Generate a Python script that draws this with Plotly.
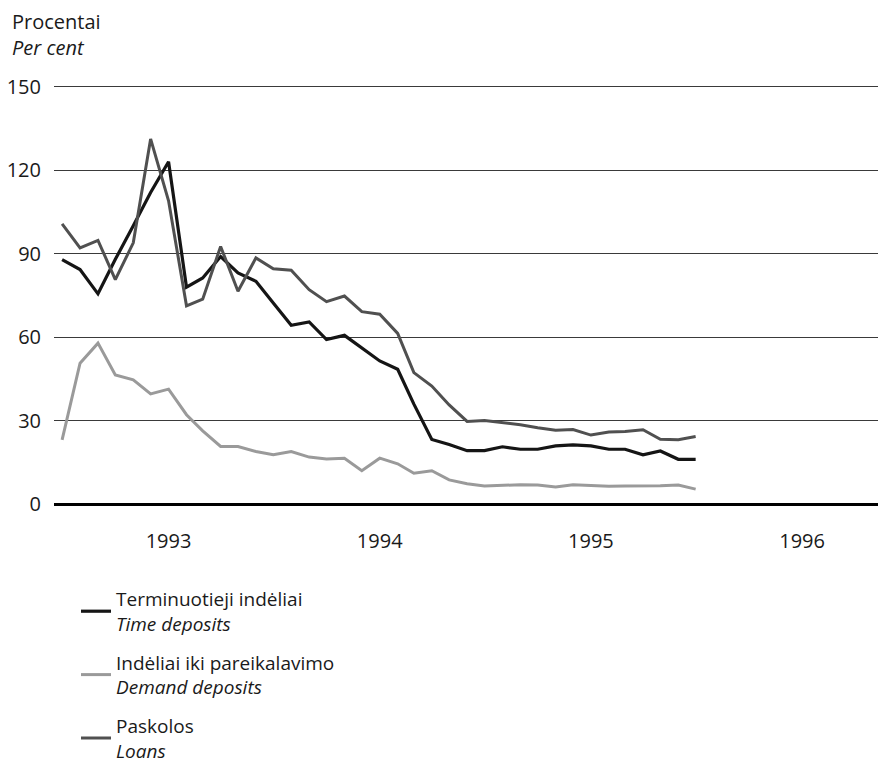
import pandas as pd
import plotly.graph_objects as go

# Monthly data, July 1992 - July 1995 (per cent)
time_deposits = [87.9, 84.3, 75.6, 88.0, 100.0, 112.0, 123.0, 78.0, 81.3, 89.0,
                 83.1, 80.1, 72.3, 64.3, 65.5, 59.2, 60.7, 56.0, 51.5, 48.5,
                 36.0, 23.3, 21.5, 19.3, 19.3, 20.7, 19.8, 19.8, 21.0, 21.4,
                 21.0, 19.8, 19.8, 17.8, 19.2, 16.2, 16.2]
demand_deposits = [23.2, 50.7, 57.9, 46.5, 44.7, 39.7, 41.4, 32.2, 26.4, 20.8,
                   20.8, 19.0, 17.8, 19.0, 17.0, 16.3, 16.6, 12.1, 16.6, 14.6,
                   11.2, 12.1, 8.8, 7.4, 6.6, 6.9, 7.1, 7.0, 6.3, 7.1,
                   6.8, 6.5, 6.6, 6.6, 6.7, 7.0, 5.5]
loans = [100.7, 92.1, 94.8, 80.7, 93.9, 131.2, 109.0, 71.3, 73.7, 92.6,
         76.5, 88.5, 84.6, 84.1, 77.1, 72.8, 74.8, 69.2, 68.3, 61.4,
         47.3, 42.5, 35.7, 29.8, 30.1, 29.3, 28.6, 27.5, 26.6, 26.9,
         24.9, 26.0, 26.2, 26.8, 23.4, 23.2, 24.4]
months = pd.date_range("1992-07-01", periods=len(time_deposits), freq="MS")

year_ticks = ["1993-01-01", "1994-01-01", "1995-01-01", "1996-01-01"]
year_labels = ["1993", "1994", "1995", "1996"]
y_ticks = [0, 30, 60, 90, 120, 150]

series = [
    ("Terminuotieji indėliai<br><i>Time deposits</i>", time_deposits, "#151515", 3.2),
    ("Indėliai iki pareikalavimo<br><i>Demand deposits</i>", demand_deposits, "#9a9a9a", 3.0),
    ("Paskolos<br><i>Loans</i>", loans, "#505050", 3.0),
]

FONT = "Open Sans"
FS = 20
TXT = "#1a1a1a"
# the page body adds an 8px margin, so the figure is 8px smaller
W, H = 878, 759
ML, MR, MT, MB = 46, 0, 73, 257
PW, PH = W - ML - MR, H - MT - MB

fig = go.Figure()
for i, (name, vals, color, w) in enumerate(series):
    fig.add_trace(go.Scatter(
        x=months, y=vals, mode="lines", name=name,
        legendgroup=f"g{i}",
        line=dict(color=color, width=w),
    ))

fig.add_annotation(
    text="Procentai<br><i>Per cent</i>",
    xref="paper", yref="paper",
    x=(2 - ML) / PW, xanchor="left",
    y=1 + (MT + 2) / PH, yanchor="top",
    align="left", showarrow=False,
    font=dict(family=FONT, size=FS, color=TXT),
)

fig.update_layout(
    width=W, height=H,
    margin=dict(l=ML, r=MR, t=MT, b=MB, autoexpand=False),
    paper_bgcolor="white", plot_bgcolor="white",
    font=dict(family=FONT, size=FS, color=TXT),
    showlegend=True,
    legend=dict(
        xref="paper", yref="paper",
        x=(68 - ML) / PW, xanchor="left",
        y=-(572 - (H - MB)) / PH, yanchor="top",
        font=dict(family=FONT, size=19, color=TXT),
        tracegroupgap=11,
        valign="middle",
        bgcolor="rgba(0,0,0,0)",
    ),
    xaxis=dict(
        type="date",
        range=["1992-06-17", "1996-05-25"],
        tickmode="array", tickvals=year_ticks, ticktext=year_labels,
        showgrid=False, zeroline=False, showline=False,
        ticks="", ticklabelstandoff=17,
        tickfont=dict(family=FONT, size=FS, color=TXT),
    ),
    yaxis=dict(
        range=[-2, 152],
        tickmode="array", tickvals=y_ticks,
        showgrid=True, gridcolor="#3a3a3a", gridwidth=1.3,
        zeroline=True, zerolinecolor="#000000", zerolinewidth=3,
        showline=False, ticks="", ticklabelstandoff=12,
        tickfont=dict(family=FONT, size=FS, color=TXT),
    ),
)

fig.write_html("out.html")
